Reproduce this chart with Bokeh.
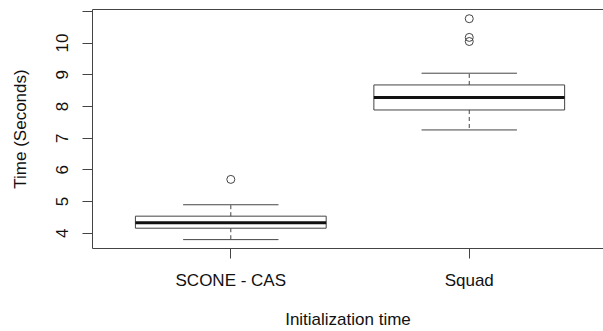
from bokeh.plotting import figure
from bokeh.models import Range1d, FixedTicker, LinearAxis
from bokeh.embed import file_html
from bokeh.resources import INLINE

categories = ["SCONE - CAS", "Squad"]
lower_whisker = [3.80, 7.26]
q1 = [4.16, 7.89]
median = [4.33, 8.28]
q3 = [4.54, 8.68]
upper_whisker = [4.90, 9.05]
outlier_group = ["SCONE - CAS", "Squad", "Squad", "Squad"]
outlier_values = [5.70, 10.05, 10.18, 10.77]
y_ticks = [4, 5, 6, 7, 8, 9, 10, 11]
y_tick_labels = ["4", "5", "6", "7", "8", "9", "10", ""]
x_title = "Initialization time"
y_title = "Time (Seconds)"

pos = {c: i + 1 for i, c in enumerate(categories)}
xs = [pos[c] for c in categories]
ox = [pos[c] for c in outlier_group]

LINE = "#444444"
FONT = "Liberation Sans"
FS = "17px"

p = figure(frame_width=511, frame_height=239, output_backend="svg",
           toolbar_location=None, x_range=Range1d(0.42, 2.563),
           y_range=Range1d(3.52, 11.06), min_border_left=92,
           min_border_top=9, min_border_bottom=83, min_border_right=0,
           background_fill_color="white", border_fill_color="white")
p.outline_line_color = None
p.xgrid.visible = False
p.ygrid.visible = False

# boxes
p.vbar(x=xs, width=0.8, bottom=q1, top=q3, fill_color="white",
       line_color=LINE, line_width=1)
# medians
p.segment(x0=[x - 0.4 for x in xs], x1=[x + 0.4 for x in xs], y0=median, y1=median,
          line_color="#111111", line_width=3)
# whiskers
p.segment(x0=xs, x1=xs, y0=q3, y1=upper_whisker, line_color=LINE,
          line_width=1, line_dash="4 3")
p.segment(x0=xs, x1=xs, y0=q1, y1=lower_whisker, line_color=LINE,
          line_width=1, line_dash="4 3")
# staples
p.segment(x0=[x - 0.2 for x in xs], x1=[x + 0.2 for x in xs], y0=upper_whisker,
          y1=upper_whisker, line_color=LINE, line_width=1)
p.segment(x0=[x - 0.2 for x in xs], x1=[x + 0.2 for x in xs], y0=lower_whisker,
          y1=lower_whisker, line_color=LINE, line_width=1)
# outliers
p.scatter(x=ox, y=outlier_values, marker="circle", size=8, fill_color=None,
          line_color=LINE, line_width=1)

# x axis
xa = p.xaxis[0]
xa.ticker = FixedTicker(ticks=xs)
xa.major_label_overrides = {x: c for x, c in zip(xs, categories)}
xa.axis_label = x_title

# y axis
ya = p.yaxis[0]
ya.ticker = FixedTicker(ticks=y_ticks)
ya.major_label_overrides = {t: l for t, l in zip(y_ticks, y_tick_labels)}
ya.axis_label = y_title
ya.major_label_orientation = "vertical"

for ax in (xa, ya):
    ax.axis_line_color = LINE
    ax.major_tick_line_color = LINE
    ax.major_tick_out = 10
    ax.major_tick_in = 0
    ax.minor_tick_line_color = None
    ax.major_label_text_font = FONT
    ax.major_label_text_font_size = FS
    ax.major_label_text_color = "#111111"
    ax.axis_label_text_font = FONT
    ax.axis_label_text_font_size = FS
    ax.axis_label_text_font_style = "normal"
    ax.axis_label_text_color = "#111111"

xa.major_label_standoff = 12
xa.axis_label_standoff = 17
ya.major_label_standoff = 14
ya.axis_label_standoff = 24

# top frame line
top = LinearAxis(ticker=FixedTicker(ticks=[]), axis_line_color=LINE,
                 major_tick_out=0, major_tick_in=0, minor_tick_out=0,
                 minor_tick_in=0, major_label_standoff=0)
p.add_layout(top, "above")

open("out.html", "w").write(file_html(p, INLINE))
